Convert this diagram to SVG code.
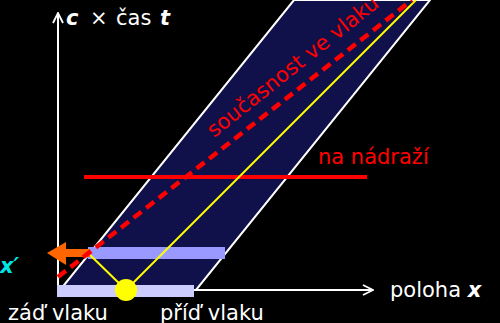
<svg xmlns="http://www.w3.org/2000/svg" width="500" height="323" viewBox="0 0 500 323">
<defs>
<style>
text{font-family:"DejaVu Sans","Liberation Sans",sans-serif;font-size:21px}
.w{fill:#ffffff}
.r{fill:#ff0000}
.bi{font-weight:bold;font-style:italic}
.ax{stroke:#ffffff;stroke-width:2;fill:none}
</style>
<marker id="chev" viewBox="0 0 12 12" refX="11" refY="6" markerWidth="12" markerHeight="12" markerUnits="userSpaceOnUse" orient="auto">
<path d="M1,1 L11,6 L1,11" fill="none" stroke="#ffffff" stroke-width="1.8"/>
</marker>
</defs>
<rect width="500" height="323" fill="#000000"/>
<g id="train-band">
<polygon points="60,290 196,290 430,0 294,0" fill="#10104a" stroke="#ffffff" stroke-width="2"/>
</g>
<g id="axes">
<line class="ax" x1="58" y1="291" x2="58" y2="13" marker-end="url(#chev)"/>
<line class="ax" x1="58" y1="290" x2="373" y2="290" marker-end="url(#chev)"/>
</g>
<g id="station">
<line x1="84" y1="177" x2="367" y2="177" stroke="#ff0000" stroke-width="4"/>
</g>
<g id="bars">
<rect x="57" y="285" width="137" height="12" fill="#ccccff"/>
<rect x="88" y="247" width="137" height="12" fill="#9999ff"/>
</g>
<g id="connectors">
<line x1="126" y1="290" x2="416" y2="0" stroke="#ffff00" stroke-width="2"/>
<line x1="126" y1="290" x2="88" y2="253" stroke="#ffff00" stroke-width="2"/>
<polygon points="47,253 66,242 66,265" fill="#ff6600"/>
<rect x="64" y="249" width="26" height="8" fill="#ff6600"/>
<line x1="58" y1="277" x2="412" y2="0" stroke="#ff0000" stroke-width="4.5" stroke-dasharray="10,6"/>
</g>
<g id="flash">
<circle cx="126" cy="290" r="11" fill="#ffff00"/>
</g>
<g id="labels">
<text class="w" y="25"><tspan x="66" class="bi">c</tspan><tspan x="90">×</tspan><tspan x="116">čas</tspan><tspan x="160" class="bi">t</tspan></text>
<text class="r" x="318" y="164">na nádraží</text>
<text class="r" transform="translate(214,138) rotate(-38.5)">současnost ve vlaku</text>
<text class="w" x="390" y="297">poloha <tspan class="bi">x</tspan></text>
<text class="w" x="8" y="320">záď vlaku</text>
<text class="w" x="160" y="320">příď vlaku</text>
<text x="0" y="273" fill="#00e5e5" class="bi">x′</text>
</g>
</svg>
